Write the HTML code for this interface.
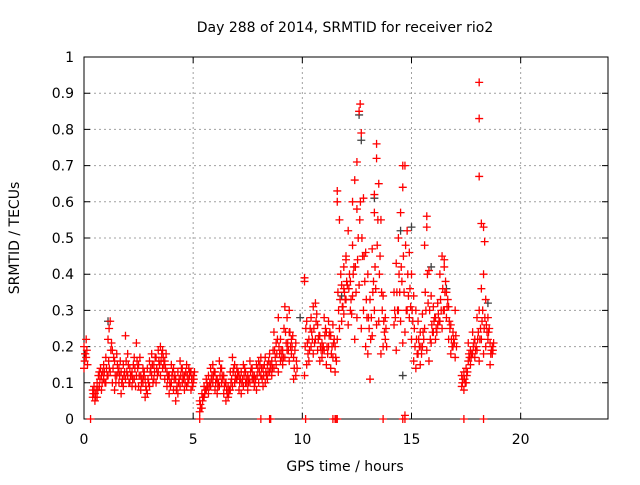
<!DOCTYPE html>
<html><head><meta charset="utf-8"><style>
body{margin:0;background:#fff}
svg text{font-family:"DejaVu Sans","Liberation Sans",sans-serif;font-size:14px;fill:#000}
</style></head><body>
<svg id="chart" width="640" height="480" xmlns="http://www.w3.org/2000/svg">
<rect width="640" height="480" fill="#fff"/>
<text x="345" y="32" text-anchor="middle">Day 288 of 2014, SRMTID for receiver rio2</text>
<text x="345" y="471" text-anchor="middle">GPS time / hours</text>
<text transform="translate(19,238) rotate(-90)" text-anchor="middle">SRMTID / TECUs</text>
<g id="grid"></g>
<g id="axes"></g>
<g id="gray"></g>
<g id="red"></g>
</svg>
<script>
const xTicks=[0,5,10,15,20];
const yTicks=[0,0.1,0.2,0.3,0.4,0.5,0.6,0.7,0.8,0.9,1];
const yTickLabels=["0","0.1","0.2","0.3","0.4","0.5","0.6","0.7","0.8","0.9","1"];
const times=[0.0,0.1,0.4,0.5,0.6,0.7,0.8,0.9,1.0,1.1,1.2,1.3,1.4,1.5,1.6,1.7,1.8,1.9,2.0,2.1,2.2,2.3,2.4,2.5,2.6,2.7,2.8,2.9,3.0,3.1,3.2,3.3,3.4,3.5,3.6,3.7,3.8,3.9,4.0,4.1,4.2,4.3,4.4,4.5,4.6,4.7,4.8,4.9,5.0,
5.3,5.4,5.5,5.6,5.7,5.8,5.9,6.0,6.1,6.2,6.3,6.4,6.5,6.6,6.7,6.8,6.9,7.0,7.1,7.2,7.3,7.4,7.5,7.6,7.7,7.8,7.9,8.0,8.1,8.2,8.3,8.4,8.5,8.6,8.7,8.8,8.9,9.0,9.1,9.2,9.3,9.4,9.5,9.6,9.7,
10.1,10.2,10.3,10.4,10.5,10.6,10.7,10.8,10.9,11.0,11.1,11.2,11.3,11.4,11.5,11.6,11.7,11.8,11.9,12.0,12.1,12.2,12.3,12.4,12.5,12.6,12.7,12.8,12.9,13.0,13.1,13.2,13.3,13.4,13.5,13.6,13.7,13.8,
14.2,14.3,14.4,14.5,14.6,14.7,14.8,14.9,15.0,15.1,15.2,15.3,15.4,15.5,15.6,15.7,15.8,15.9,16.0,16.1,16.2,16.3,16.4,16.5,16.6,16.7,16.8,16.9,17.0,17.3,17.4,17.5,17.6,17.7,17.8,17.9,18.0,18.1,18.2,18.3,18.4,18.5,18.6,18.7];
const valsLow=[.14,.17,.06,.05,.06,.09,.08,.11,.10,.12,.13,.10,.08,.12,.10,.07,.09,.11,.12,.10,.09,.11,.12,.09,.08,.10,.06,.07,.09,.12,.11,.10,.13,.12,.14,.11,.09,.07,.10,.08,.05,.07,.09,.10,.08,.09,.11,.08,.10,
.02,.03,.06,.08,.07,.09,.10,.08,.07,.09,.10,.07,.05,.06,.08,.09,.10,.11,.08,.07,.09,.10,.08,.10,.11,.09,.08,.10,.12,.09,.10,.11,.13,.12,.14,.15,.13,.16,.15,.17,.19,.16,.18,.11,.12,
.12,.15,.16,.20,.18,.22,.19,.16,.17,.19,.15,.20,.14,.17,.13,.22,.25,.27,.29,.33,.26,.30,.34,.22,.28,.37,.25,.30,.20,.18,.11,.23,.30,.26,.27,.18,.20,.22,
.26,.19,.30,.27,.21,.24,.30,.28,.22,.16,.14,.18,.15,.20,.25,.19,.16,.21,.24,.22,.26,.27,.25,.30,.28,.22,.18,.20,.17,.09,.08,.10,.16,.15,.18,.17,.19,.16,.22,.18,.20,.22,.15,.18];
const valsMidA=[.16,.19,.07,.06,.08,.11,.10,.13,.14,.16,.19,.14,.12,.15,.12,.10,.12,.16,.15,.12,.11,.14,.16,.12,.10,.12,.09,.11,.13,.15,.13,.14,.16,.16,.17,.14,.11,.10,.12,.11,.08,.10,.12,.12,.10,.12,.12,.11,.11,
.04,.05,.07,.10,.09,.11,.12,.10,.09,.12,.12,.09,.08,.07,.10,.13,.12,.12,.10,.10,.12,.11,.10,.13,.12,.10,.12,.13,.14,.12,.13,.13,.15,.14,.19,.18,.20,.19,.17,.24,.21,.24,.20,.14,.16,
.20,.21,.19,.24,.25,.27,.22,.20,.19,.23,.20,.23,.18,.21,.17,.35,.33,.31,.35,.38,.36,.33,.40,.42,.44,.55,.50,.45,.33,.28,.22,.35,.42,.48,.40,.35,.27,.25,
.30,.35,.40,.42,.45,.48,.40,.36,.30,.25,.22,.22,.20,.24,.35,.40,.30,.26,.27,.25,.29,.33,.36,.35,.31,.27,.22,.22,.23,
.10,.11,.12,.18,.17,.20,.19,.22,.22,.27,.25,.26,.24,.18,.19];
const valsMidB=[.18,.15,.09,.08,.12,.14,.13,.10,.12,.14,.21,.17,.10,.13,.16,.11,.13,.13,.10,.12,.15,.09,.14,.17,.11,.13,.08,.10,.14,.10,.17,.12,.15,.18,.15,.18,.12,.09,.13,.12,.09,.11,.14,.11,.13,.10,.13,.09,.13,
.03,.06,.08,.09,.10,.12,.13,.11,.10,.14,.11,.10,.07,.08,.11,.14,.11,.13,.11,.11,.14,.10,.11,.14,.11,.11,.14,.15,.11,.15,.12,.16,.14,.19,.17,.22,.18,.17,.25,.21,.19,.20,.23,.19,.14,
.25,.18,.25,.22,.21,.29,.23,.19,.20,.25,.18,.24,.20,.22,.16,.30,.40,.31,.33,.37,.40,.29,.42,.35,.50,.60,.45,.38,.28,.25,.28,.38,.36,.55,.45,.30,.24,.20,
.28,.30,.35,.38,.35,.30,.34,.31,.27,.20,.18,.20,.18,.22,.30,.32,.22,.24,.28,.24,.27,.30,.30,.38,.33,.25,.20,.21,.20,
.11,.10,.13,.17,.18,.21,.20,.24,.25,.30,.28,.24,.25,.19,.21];
const valsHigh=[.20,.22,.08,.07,.10,.13,.12,.15,.17,.22,.27,.19,.16,.18,.14,.13,.15,.23,.18,.14,.13,.17,.21,.15,.12,.14,.11,.14,.16,.18,.15,.17,.19,.20,.19,.16,.13,.12,.15,.14,.11,.13,.16,.14,.12,.15,.14,.13,.12,
.05,.07,.09,.11,.12,.14,.15,.13,.11,.16,.14,.12,.10,.09,.13,.17,.15,.14,.12,.13,.15,.13,.12,.16,.14,.12,.15,.16,.17,.14,.17,.15,.18,.16,.24,.21,.28,.22,.19,.31,.28,.24,.22,.17,.21,
.39,.27,.22,.28,.31,.32,.26,.23,.21,.28,.24,.27,.23,.26,.20,.63,.55,.37,.42,.45,.52,.38,.48,.66,.71,.85,.79,.61,.46,.40,.33,.47,.57,.76,.65,.55,.34,.28,
.35,.43,.50,.57,.64,.70,.52,.46,.40,.34,.30,.27,.24,.29,.48,.56,.41,.34,.31,.28,.32,.40,.45,.42,.35,.31,.26,.24,.30,.12,.13,.14,.21,.19,.24,.22,.28,.30,.36,.40,.33,.28,.21,.20];
const extraT=[18.1,18.1,18.1,18.2,18.3,18.35,12.5,12.3,11.6,14.6,12.65,13.4,0.05,1.15,9.4,10.1,14.7,15.7,16.5,12.0,11.9,13.3];
const extraV=[.93,.83,.67,.54,.53,.49,.58,.60,.60,.70,.87,.72,.18,.25,.30,.38,.01,.53,.44,.44,.36,.62];
const zeroT=[0.3,5.3,8.1,8.5,8.55,10.15,11.4,11.5,11.55,11.6,13.7,14.6,14.7,17.4,18.3];
const grayT=[12.6,14.5,15.9,18.5,13.3,9.9,14.6,11.8,1.1,12.7,15.0,16.6];
const grayV=[.84,.52,.42,.32,.61,.28,.12,.34,.27,.77,.53,.36];

const X0=84,X1=608,Y0=419,Y1=57;
const xs=t=>X0+t/24*(X1-X0);
const ys=v=>Y0-v*(Y0-Y1);
const NS="http://www.w3.org/2000/svg";
function mk(tag,attrs,parent){const e=document.createElementNS(NS,tag);for(const k in attrs)e.setAttribute(k,attrs[k]);parent.appendChild(e);return e;}
const grid=document.getElementById('grid'),axes=document.getElementById('axes');
yTicks.forEach((v,i)=>{
  if(v>0&&v<1){const l=mk('line',{x1:X0,x2:X1,y1:ys(v),y2:ys(v),stroke:'#a0a0a0','stroke-dasharray':'2,3'},grid);
  
  }
  const tk=mk('path',{d:`M${X0},${ys(v)}h6M${X1},${ys(v)}h-6`,stroke:'#000'},axes);
  
  
  const t=mk('text',{x:X0-10,y:ys(v)+5,'text-anchor':'end'},axes);t.textContent=yTickLabels[i];
  
  
});
xTicks.forEach(v=>{
  if(v>0){const l=mk('line',{x1:xs(v),x2:xs(v),y1:Y0,y2:Y1,stroke:'#a0a0a0','stroke-dasharray':'2,3'},grid);
  
  }
  const tk=mk('path',{d:`M${xs(v)},${Y0}v-6M${xs(v)},${Y1}v6`,stroke:'#000'},axes);
  
  
  const t=mk('text',{x:xs(v),y:Y0+25,'text-anchor':'middle'},axes);t.textContent=String(v);
  
  
});
const frame=mk('rect',{x:X0,y:Y1,width:X1-X0,height:Y0-Y1,fill:'none',stroke:'#000'},axes);


function plus(g,t,v,col){
  const p=mk('path',{d:`M${xs(t)-4},${ys(v)}h8M${xs(t)},${ys(v)-4}v8`,stroke:col,'stroke-width':1.3},g);
  
  
}
const gray=document.getElementById('gray'),red=document.getElementById('red');
grayT.forEach((t,i)=>plus(gray,t,grayV[i],'#404040'));
times.forEach((t,i)=>{
  plus(red,t,valsLow[i],'#ff0000');
  plus(red,t+0.03,valsMidA[i],'#ff0000');
  plus(red,t+0.06,valsMidB[i],'#ff0000');
  plus(red,t,valsHigh[i],'#ff0000');
});
extraT.forEach((t,i)=>plus(red,t,extraV[i],'#ff0000'));
zeroT.forEach(t=>plus(red,t,0,'#ff0000'));
</script>
</body></html>
